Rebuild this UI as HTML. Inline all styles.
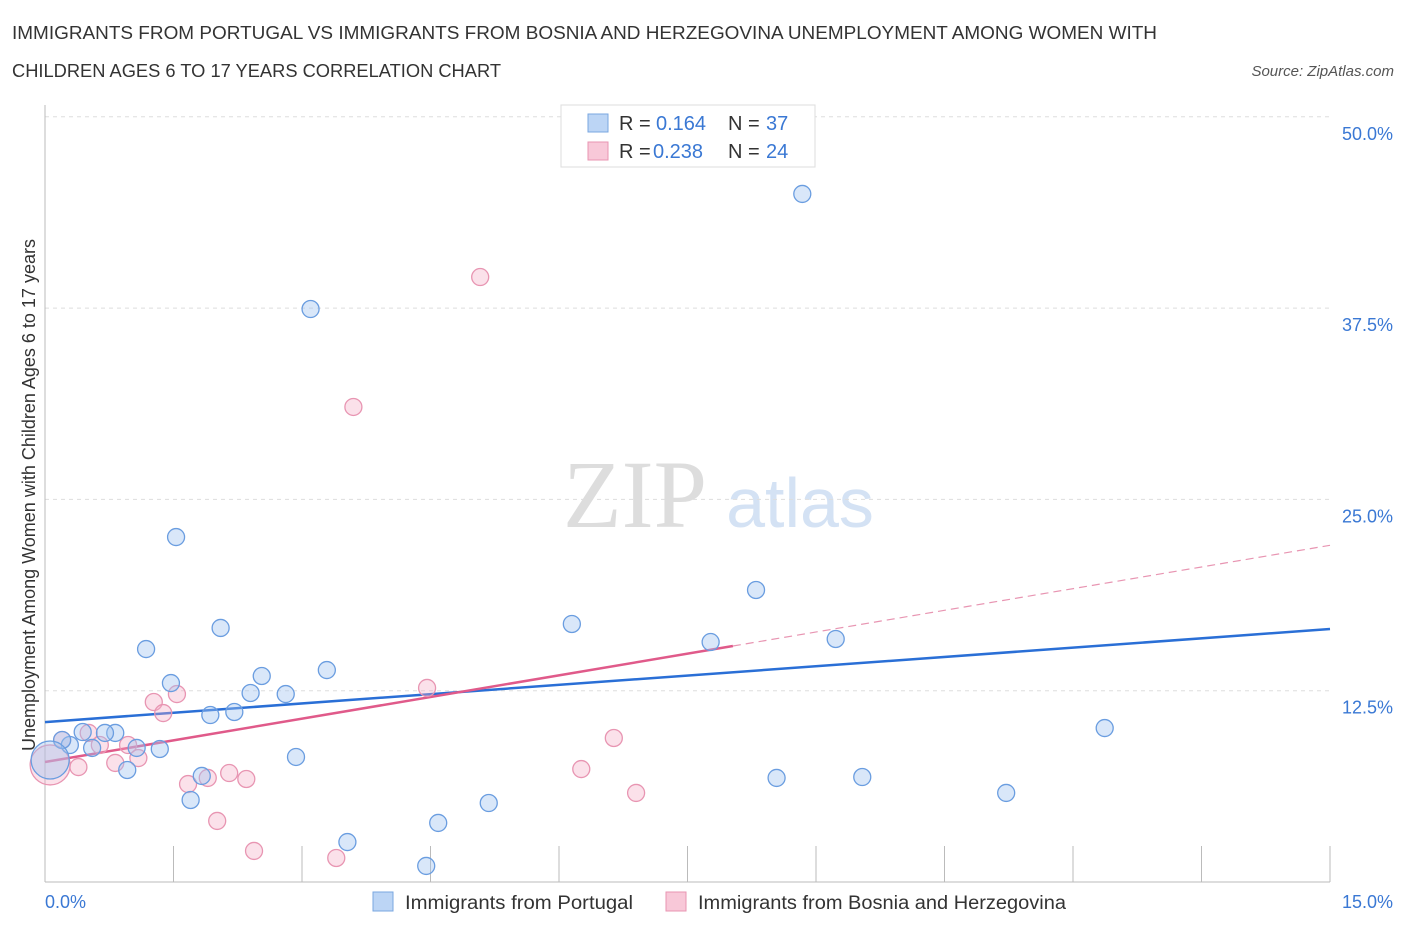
<!DOCTYPE html>
<html><head><meta charset="utf-8"><style>
body{margin:0;background:#fff;font-family:"Liberation Sans",sans-serif}
svg text{font-family:"Liberation Sans",sans-serif}
</style></head><body>
<svg width="1406" height="930" id="chart">
<text x="12" y="39" font-size="18" fill="#333" textLength="1145" lengthAdjust="spacingAndGlyphs">IMMIGRANTS FROM PORTUGAL VS IMMIGRANTS FROM BOSNIA AND HERZEGOVINA UNEMPLOYMENT AMONG WOMEN WITH</text>
<text x="12" y="77" font-size="18" fill="#333" textLength="489" lengthAdjust="spacingAndGlyphs">CHILDREN AGES 6 TO 17 YEARS CORRELATION CHART</text>
<text x="1394" y="76" font-size="15" fill="#555" text-anchor="end" font-style="italic">Source: ZipAtlas.com</text>
<text x="635" y="527" font-size="96" fill="#ddd" text-anchor="middle" style="font-family:'Liberation Serif',serif">ZIP</text>
<text x="800" y="527" font-size="70" fill="#d4e2f4" text-anchor="middle">atlas</text>
<g id="grid"></g>
<g id="axes"></g>
<g id="lines"></g>
<g id="points"></g>
<text x="35" y="495" font-size="18" fill="#333" text-anchor="middle" transform="rotate(-90 35 495)">Unemployment Among Women with Children Ages 6 to 17 years</text>
<text x="45" y="908" font-size="18" fill="#3a78d4">0.0%</text>
<text x="1393" y="908" font-size="18" fill="#3a78d4" text-anchor="end">15.0%</text>
<g>
<rect x="561" y="105" width="254" height="62" fill="#fff" stroke="#ddd"/>
<rect x="588" y="114" width="20" height="18" fill="#bcd5f5" stroke="#7aa7e0"/>
<rect x="588" y="142" width="20" height="18" fill="#f8c8d8" stroke="#e895b2"/>
<text x="619" y="130" font-size="20" fill="#333">R = <tspan x="656" fill="#3a78d4">0.164</tspan><tspan x="728">N = </tspan><tspan x="766" fill="#3a78d4">37</tspan></text>
<text x="619" y="158" font-size="20" fill="#333">R = <tspan x="653" fill="#3a78d4">0.238</tspan><tspan x="728">N = </tspan><tspan x="766" fill="#3a78d4">24</tspan></text>
</g>
<g><rect x="373" y="892" width="20" height="19" fill="#bcd5f5" stroke="#7aa7e0"/><text x="405" y="909" font-size="19" fill="#333" textLength="228" lengthAdjust="spacingAndGlyphs">Immigrants from Portugal</text></g>
<g><rect x="666" y="892" width="20" height="19" fill="#f8c8d8" stroke="#e895b2"/><text x="698" y="909" font-size="19" fill="#333" textLength="368" lengthAdjust="spacingAndGlyphs">Immigrants from Bosnia and Herzegovina</text></g>
</svg>
<script>
const yTicks=[12.5,25,37.5,50];
const yTickLabels=["12.5%","25.0%","37.5%","50.0%"];
const blueX=[8.84,3.10,1.53,2.05,6.15,8.30,7.77,9.23,1.18,2.53,3.29,1.47,2.40,2.81,1.93,2.21,12.37,0.44,0.82,0.70,0.29,0.20,0.55,1.07,1.34,2.93,0.96,1.83,8.54,9.54,1.70,5.18,11.22,3.53,4.59,4.45,0.06];
const blueY=[44.96,37.44,22.54,16.60,16.86,19.08,15.68,15.88,15.22,13.46,13.85,13.00,12.35,12.28,10.91,11.11,10.06,9.80,9.74,9.74,8.95,9.28,8.76,8.76,8.69,8.17,7.32,6.93,6.80,6.86,5.36,5.16,5.82,2.61,3.86,1.05,7.97];
const pinkX=[5.08,3.60,4.46,1.27,1.54,1.38,6.64,0.51,0.20,0.97,1.09,0.82,0.39,6.26,2.15,1.90,2.35,1.67,6.90,2.01,2.44,3.40,0.06,0.64];
const pinkY=[39.53,31.04,12.68,11.76,12.28,11.04,9.41,9.74,9.28,8.95,8.10,7.78,7.51,7.38,7.12,6.80,6.73,6.40,5.82,3.99,2.03,1.57,7.65,8.95];
const blueTrend=[[0,10.45],[15,16.53]];
const pinkTrend=[[0,7.84],[8.03,15.42],[15,22.0]];
const X=v=>45+v/15*1285, Y=v=>882-v/12.5*191.3;
const NS="http://www.w3.org/2000/svg";
function mk(t,a,p){const e=document.createElementNS(NS,t);for(const k in a)e.setAttribute(k,a[k]);p.appendChild(e);return e;}
const grid=document.getElementById('grid'),axes=document.getElementById('axes'),lines=document.getElementById('lines'),pts=document.getElementById('points');
yTicks.forEach((t,i)=>{
 const l=mk('line',{x1:45,x2:1330,y1:Y(t),y2:Y(t),stroke:'#ddd','stroke-dasharray':'4,4'},grid);
 
 
 const tx=mk('text',{x:1393,y:Y(t)+23,'font-size':18,fill:'#3a78d4','text-anchor':'end'},axes);
 tx.textContent=yTickLabels[i];
 
 
});
const ax=mk('line',{x1:45,x2:45,y1:105,y2:882,stroke:'#bbb'},axes);


const bx=mk('line',{x1:45,x2:1330,y1:882,y2:882,stroke:'#bbb'},axes);


for(let i=0;i<=10;i++){const t=mk('line',{x1:X(i*1.5),x2:X(i*1.5),y1:846,y2:882,stroke:'#bbb'},axes);
 
 }
function dot(x,y,r,fill,stroke,name){const c=mk('circle',{cx:X(x),cy:Y(y),r:r,fill:fill,stroke:stroke,'stroke-width':1.3},pts);
 
 }
pinkX.forEach((x,i)=>dot(x,pinkY[i],i==22?20:8.5,'rgba(244,170,195,0.35)','#e895b2','point-bosnia'));
blueX.forEach((x,i)=>dot(x,blueY[i],i==36?19:8.5,'rgba(160,195,240,0.4)','#6a9de0','point-portugal'));
const bl=mk('line',{x1:X(blueTrend[0][0]),y1:Y(blueTrend[0][1]),x2:X(blueTrend[1][0]),y2:Y(blueTrend[1][1]),stroke:'#2a6fd6','stroke-width':2.5},lines);


const pl=mk('line',{x1:X(pinkTrend[0][0]),y1:Y(pinkTrend[0][1]),x2:X(pinkTrend[1][0]),y2:Y(pinkTrend[1][1]),stroke:'#e05a8a','stroke-width':2.5},lines);


const pd=mk('line',{x1:X(pinkTrend[1][0]),y1:Y(pinkTrend[1][1]),x2:X(pinkTrend[2][0]),y2:Y(pinkTrend[2][1]),stroke:'#e895b2','stroke-width':1.2,'stroke-dasharray':'8,5'},lines);


</script>
</body></html>
